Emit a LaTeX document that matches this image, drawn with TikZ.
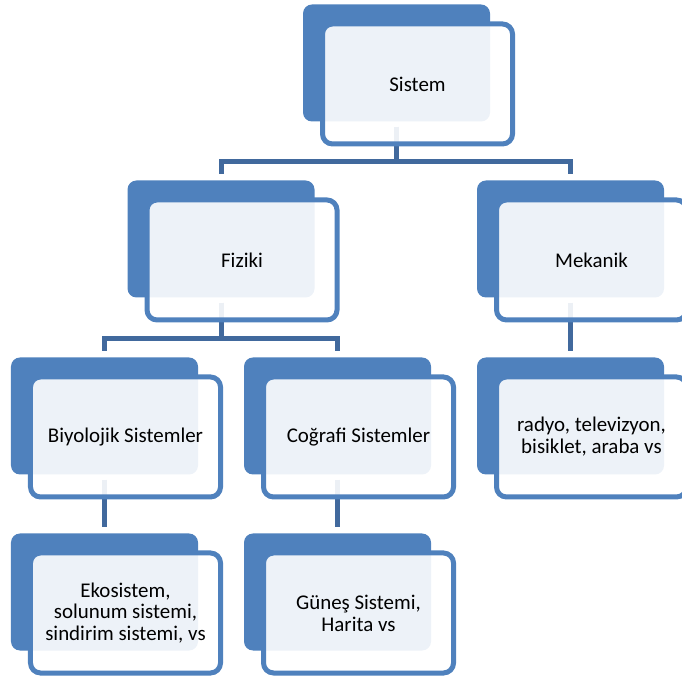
\documentclass[tikz,border=0pt]{standalone}
\usepackage{fontspec}
\setmainfont{Carlito}
\usetikzlibrary{positioning}

\definecolor{boxblue}{RGB}{79,129,189}
\definecolor{linkblue}{RGB}{65,105,157}

\begin{document}
\begin{tikzpicture}[
    x=1bp, y=1bp,
    every node/.style={font=\fontsize{21}{22}\selectfont},
    backbox/.style={fill=boxblue, rounded corners=9bp, minimum width=187bp, minimum height=117bp, inner sep=0pt},
    frontbox/.style={draw=boxblue, line width=5bp, fill=white, fill opacity=0.9, text opacity=1, rounded corners=10bp, minimum width=190bp, minimum height=120bp, align=center, inner sep=0pt},
    link/.style={draw=linkblue, line width=5bp, shorten <=5bp, shorten >=6bp}
]
\useasboundingbox (0,0) rectangle (682,677);
\clip (0,0) rectangle (682,677);

% back plates
\node[backbox] (sistemback) at (396.5,614) {};
\node[backbox] (fizikiback) at (221,438) {};
\node[backbox] (mekanikback) at (570.5,438) {};
\node[backbox] (biyolojikback) at (104.5,261) {};
\node[backbox] (cografiback) at (337.5,261) {};
\node[backbox] (radyoback) at (570.5,261) {};
\node[backbox] (ekosistemback) at (104.5,85) {};
\node[backbox] (gunesback) at (337.5,85) {};

% connectors
\draw[link] (sistemback.south) -- ([yshift=-39.5bp]sistemback.south) -| (fizikiback.north);
\draw[link] (sistemback.south) -- ([yshift=-39.5bp]sistemback.south) -| (mekanikback.north);
\draw[link] (fizikiback.south) -- ([yshift=-40.5bp]fizikiback.south) -| (biyolojikback.north);
\draw[link] (fizikiback.south) -- ([yshift=-40.5bp]fizikiback.south) -| (cografiback.north);
\draw[link] (mekanikback.south) -- (radyoback.north);
\draw[link] (biyolojikback.south) -- (ekosistemback.north);
\draw[link] (cografiback.south) -- (gunesback.north);

% front boxes
\node[frontbox] (sistem) at ([shift={(21,-21)}]sistemback) {Sistem};
\node[frontbox] (fiziki) at ([shift={(21,-21)}]fizikiback) {Fiziki};
\node[frontbox] (mekanik) at ([shift={(21,-21)}]mekanikback) {Mekanik};
\node[frontbox] (biyolojik) at ([shift={(21,-21)}]biyolojikback) {Biyolojik Sistemler};
\node[frontbox] (cografi) at ([shift={(21,-21)}]cografiback) {Coğrafi Sistemler};
\node[frontbox] (radyo) at ([shift={(21,-21)}]radyoback) {radyo, televizyon,\\bisiklet, araba vs};
\node[frontbox] (ekosistem) at ([shift={(21,-21)}]ekosistemback) {Ekosistem,\\solunum sistemi,\\sindirim sistemi, vs};
\node[frontbox] (gunes) at ([shift={(21,-21)}]gunesback) {Güneş Sistemi,\\Harita vs};
\end{tikzpicture}
\end{document}
